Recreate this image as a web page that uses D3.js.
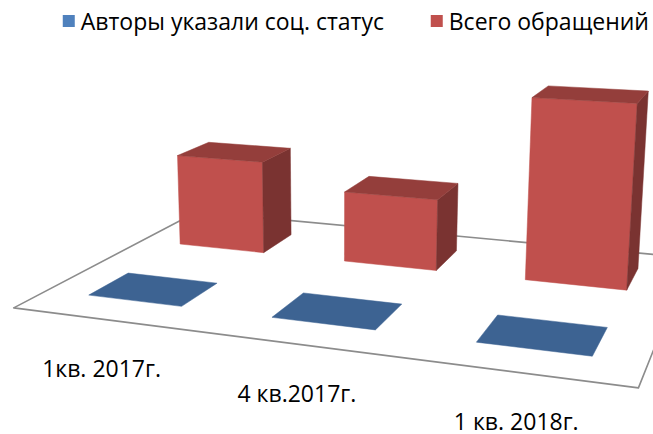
<!DOCTYPE html>
<html>
<head>
<meta charset="utf-8">
<script src="https://cdn.jsdelivr.net/npm/d3@7"></script>
<style>
  body { margin: 0; background: #fff; }
  text { font-family: "Open Sans", sans-serif; }
</style>
</head>
<body>
<svg id="chart" width="653" height="434"></svg>
<script>
var categories = ["1кв. 2017г.", "4 кв.2017г.", "1 кв. 2018г."];
var seriesNames = ["Авторы указали соц. статус", "Всего обращений"];
var socStatus = [0, 0, 0];
var totalRequests = [80, 60, 148];
var colors = ["#4F81BD", "#C0504D"];

// perspective camera: world (x = category, y = height, z = series depth, 1) -> screen
var camera = [
  [174.104, -12.0916, 119.629, 13.7209],
  [5.93607, -197.349, -17.9889, 307.840],
  [-0.0534631, -0.0360831, 0.141802, 1]
];
var halfW = 0.26, halfD = 0.20;

function proj(X, Y, Z) {
  var v = [X, Y, Z, 1];
  var r = camera.map(function(row) { return d3.sum(row, function(c, i) { return c * v[i]; }); });
  return [r[0] / r[2], r[1] / r[2]];
}

var x = d3.scaleBand().domain(categories).range([0, categories.length]);
var z = d3.scaleBand().domain(seriesNames).range([0, seriesNames.length]);
var y = d3.scaleLinear().domain([0, 148]).range([0, 1]);

var svg = d3.select("#chart");

// floor
var floor = [[0, 0], [3, 0], [3, 2], [0, 2]].map(function(c) { return proj(c[0], 0, c[1]); });
svg.append("path")
    .attr("d", d3.line()(floor) + "Z")
    .attr("fill", "none")
    .attr("stroke", "#8c8c8c")
    .attr("stroke-width", 1.6)
    .attr("stroke-linejoin", "round");

function faceList(x0, x1, y0, y1, z0, z1) {
  return [
    {k: "front", p: [[x0,y0,z0],[x0,y1,z0],[x1,y1,z0],[x1,y0,z0]]},
    {k: "back", p: [[x0,y0,z1],[x1,y0,z1],[x1,y1,z1],[x0,y1,z1]]},
    {k: "left", p: [[x0,y0,z0],[x0,y0,z1],[x0,y1,z1],[x0,y1,z0]]},
    {k: "right", p: [[x1,y0,z0],[x1,y1,z0],[x1,y1,z1],[x1,y0,z1]]},
    {k: "bottom", p: [[x0,y0,z0],[x1,y0,z0],[x1,y0,z1],[x0,y0,z1]]},
    {k: "top", p: [[x0,y1,z0],[x0,y1,z1],[x1,y1,z1],[x1,y1,z0]]}
  ];
}
function area(pp) {
  var s = 0;
  pp.forEach(function(p, i) { var q = pp[(i + 1) % pp.length]; s += p[0] * q[1] - q[0] * p[1]; });
  return s / 2;
}
var refSign = Math.sign(area(faceList(1, 2, 0, 0.3, 0.5, 1.5)[0].p.map(function(p) { return proj(p[0], p[1], p[2]); })));
var shade = {front: 1, left: 0.9, right: 0.635, top: 0.77, back: 0.7, bottom: 0.6};

var series = [socStatus, totalRequests];
// back row first
[1, 0].forEach(function(s) {
  series[s].forEach(function(val, i) {
    var cx = x(categories[i]) + x.bandwidth() / 2, cz = z(seriesNames[s]) + z.bandwidth() / 2;
    var faces = faceList(cx - halfW, cx + halfW, 0, y(val), cz - halfD, cz + halfD);
    faces.forEach(function(f) {
      var pp = f.p.map(function(p) { return proj(p[0], p[1], p[2]); });
      var ar = area(pp);
      if (Math.abs(ar) < 0.5 || Math.sign(ar) !== refSign) return;
      var c = d3.rgb(colors[s]), k = shade[f.k];
      var fill = d3.rgb(c.r * k, c.g * k, c.b * k);
      svg.append("path")
          .attr("d", d3.line()(pp) + "Z")
          .attr("fill", fill)
          .attr("stroke", fill)
          .attr("stroke-width", 0.5)
          .attr("stroke-linejoin", "round");
    });
  });
});

// category labels below the front edge
categories.forEach(function(c) {
  var p = proj(x(c) + x.bandwidth() / 2, 0, 0);
  svg.append("text")
      .attr("x", p[0] - 2)
      .attr("y", p[1] + 58)
      .attr("text-anchor", "middle")
      .attr("font-size", 23)
      .attr("fill", "#000")
      .text(c);
});

// legend
var legendEnds = [384, 649];
seriesNames.forEach(function(name, s) {
  var t = svg.append("text")
      .attr("x", legendEnds[s])
      .attr("y", 30)
      .attr("text-anchor", "end")
      .attr("font-size", 23)
      .attr("fill", "#000")
      .text(name);
  var w = t.node().getComputedTextLength();
  svg.append("rect")
      .attr("x", legendEnds[s] - w - 18)
      .attr("y", 15)
      .attr("width", 12)
      .attr("height", 12)
      .attr("fill", colors[s]);
});
</script>
</body>
</html>
